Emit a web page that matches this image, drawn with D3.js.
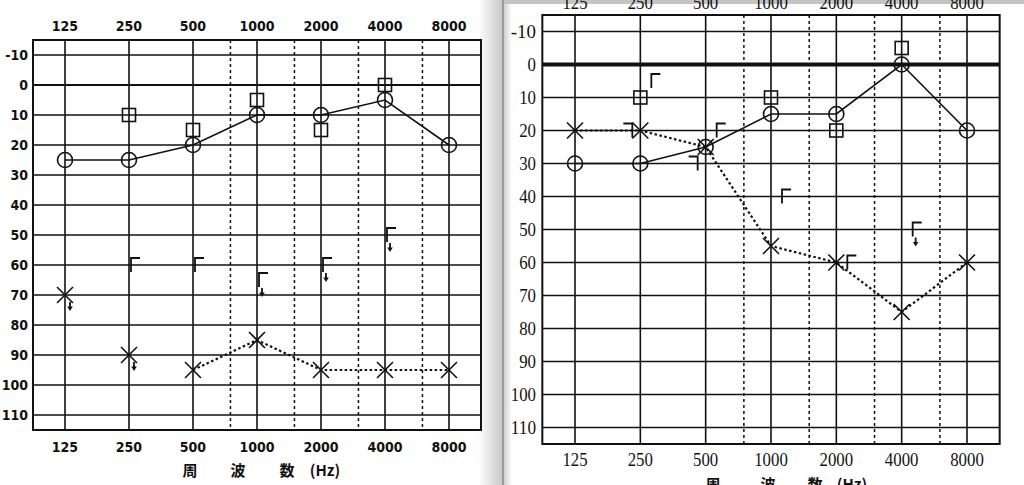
<!DOCTYPE html>
<html>
<head>
<meta charset="utf-8">
<script src="https://cdn.jsdelivr.net/npm/d3@7"></script>
<style>
  html, body { margin: 0; padding: 0; background: #fff; }
  svg { display: block; }
</style>
</head>
<body>
<svg id="chart" width="1024" height="485"></svg>
<script>
// ---------- shared axes ----------
const freqs = [125, 250, 500, 1000, 2000, 4000, 8000];
const freqLabels = ["125", "250", "500", "1000", "2000", "4000", "8000"];
const halfOctaveFreqs = [750, 1500, 3000, 6000];
const dbTicks = [-10, 0, 10, 20, 30, 40, 50, 60, 70, 80, 90, 100, 110];
const dbLabels = ["-10", "0", "10", "20", "30", "40", "50", "60", "70", "80", "90", "100", "110"];
const titleChars = ["周", "波", "数", "(Hz)"];

// ---------- left audiogram ----------
const leftCircleDb = [25, 25, 20, 10, 10, 5, 20];            // ○ solid line
const leftSquareFreq = [250, 500, 1000, 2000, 4000];
const leftSquareDb = [10, 15, 5, 15, 0];                      // □
const leftCrossDb = [70, 90, 95, 85, 95, 95, 95];            // × dotted line
const leftCrossNoResp = [true, true, false, false, false, false, false];
const leftBracketFreq = [250, 500, 1000, 2000, 4000];
const leftBracketDb = [60, 60, 65, 60, 50];                   // Γ
const leftBracketNoResp = [false, false, true, true, true];
const leftRevBracketFreq = [];
const leftRevBracketDb = [];

// ---------- right audiogram ----------
const rightCircleDb = [30, 30, 25, 15, 15, 0, 20];
const rightSquareFreq = [250, 1000, 2000, 4000];
const rightSquareDb = [10, 10, 20, -5];
const rightCrossDb = [20, 20, 25, 55, 60, 75, 60];
const rightCrossNoResp = [false, false, false, false, false, false, false];
const rightBracketFreq = [250, 500, 1000, 2000, 4000];
const rightBracketDb = [5, 20, 40, 60, 50];
const rightBracketNoResp = [false, false, false, false, true];
const rightRevBracketFreq = [250, 500];
const rightRevBracketDb = [20, 30];

const svg = d3.select("#chart");

// page background / book spine shading
const defs = svg.append("defs");
const g1 = defs.append("linearGradient").attr("id", "spine").attr("x1", "0").attr("x2", "1");
g1.append("stop").attr("offset", "0").attr("stop-color", "#fff");
g1.append("stop").attr("offset", "1").attr("stop-color", "#c9c9c9");
const g2 = defs.append("linearGradient").attr("id", "spine2").attr("x1", "0").attr("x2", "1");
g2.append("stop").attr("offset", "0").attr("stop-color", "#d0d0d0");
g2.append("stop").attr("offset", "1").attr("stop-color", "#fff");
svg.append("rect").attr("x", 0).attr("y", 0).attr("width", 1024).attr("height", 485).attr("fill", "#fff");
svg.append("rect").attr("x", 478).attr("y", 0).attr("width", 24).attr("height", 485).attr("fill", "url(#spine)");
svg.append("rect").attr("x", 502).attr("y", 0).attr("width", 2).attr("height", 485).attr("fill", "#9a9a9a");
svg.append("rect").attr("x", 504).attr("y", 0).attr("width", 8).attr("height", 485).attr("fill", "url(#spine2)");
svg.append("rect").attr("x", 504).attr("y", 0).attr("width", 520).attr("height", 4).attr("fill", "#c4c4c4");

function drawPanel(cfg) {
  const x = d3.scaleLog().base(2).domain([125, 8000]).range(cfg.xRange);
  const y = d3.scaleLinear().domain([-15, 115]).range(cfg.yRange);
  const g = svg.append("g");
  const x0 = x(125 / Math.SQRT2), x1 = x(8000 * Math.SQRT2);
  const y0 = y(-15), y1 = y(115);

  // horizontal grid lines
  g.selectAll(".hg").data(dbTicks).join("line")
    .attr("x1", x0).attr("x2", x1)
    .attr("y1", d => y(d)).attr("y2", d => y(d))
    .attr("stroke", "#111")
    .attr("stroke-width", d => d === 0 ? cfg.zeroWidth : 1.6);
  // vertical grid lines
  g.selectAll(".vg").data(freqs).join("line")
    .attr("x1", d => x(d)).attr("x2", d => x(d))
    .attr("y1", y0).attr("y2", y1)
    .attr("stroke", "#111").attr("stroke-width", 1.6);
  g.selectAll(".vh").data(halfOctaveFreqs).join("line")
    .attr("x1", d => x(d)).attr("x2", d => x(d))
    .attr("y1", y0).attr("y2", y1)
    .attr("stroke", "#111").attr("stroke-width", 1.5)
    .attr("stroke-dasharray", "3,3");
  // frame
  g.append("rect").attr("x", x0).attr("y", y0)
    .attr("width", x1 - x0).attr("height", y1 - y0)
    .attr("fill", "none").attr("stroke", "#111").attr("stroke-width", 2);

  // labels
  const fontAttrs = sel => sel.attr("font-family", cfg.font)
    .attr("font-size", cfg.fontSize).attr("font-weight", cfg.fontWeight).attr("fill", "#111");
  g.selectAll(".yl").data(dbTicks).join("text")
    .attr("x", cfg.yLabelX).attr("y", d => y(d) + cfg.fontSize * 0.36)
    .attr("text-anchor", "end")
    .text((d, i) => dbLabels[i]).call(fontAttrs)
    .each(function (d, i) { if (cfg.digitW) d3.select(this).attr("textLength", dbLabels[i].length * cfg.digitW).attr("lengthAdjust", "spacingAndGlyphs"); });
  g.selectAll(".xt").data(freqs).join("text")
    .attr("x", d => x(d)).attr("y", cfg.topLabelY)
    .attr("text-anchor", "middle")
    .text((d, i) => freqLabels[i]).call(fontAttrs)
    .each(function (d, i) { if (cfg.digitW) d3.select(this).attr("textLength", freqLabels[i].length * cfg.digitW).attr("lengthAdjust", "spacingAndGlyphs"); });
  g.selectAll(".xb").data(freqs).join("text")
    .attr("x", d => x(d)).attr("y", cfg.bottomLabelY)
    .attr("text-anchor", "middle")
    .text((d, i) => freqLabels[i]).call(fontAttrs)
    .each(function (d, i) { if (cfg.digitW) d3.select(this).attr("textLength", freqLabels[i].length * cfg.digitW).attr("lengthAdjust", "spacingAndGlyphs"); });
  g.selectAll(".tt").data(titleChars).join("text")
    .attr("x", (d, i) => cfg.titleX[i]).attr("y", cfg.titleY)
    .attr("text-anchor", "middle")
    .attr("font-family", "'Noto Sans CJK JP', 'Noto Sans CJK SC', sans-serif")
    .attr("font-size", cfg.titleSize).attr("font-weight", "bold").attr("fill", "#111")
    .text(d => d);

  const ink = "#111";
  // right-ear air: solid line + circles
  const circPts = freqs.map((f, i) => [x(f), y(cfg.circleDb[i])]);
  g.append("path").attr("d", d3.line()(circPts))
    .attr("fill", "none").attr("stroke", ink).attr("stroke-width", 1.6);
  g.selectAll(".ci").data(circPts).join("circle")
    .attr("cx", d => d[0]).attr("cy", d => d[1]).attr("r", 7.5)
    .attr("fill", "none").attr("stroke", ink).attr("stroke-width", 1.6);

  // left-ear air: dotted line + crosses
  const crossPts = freqs.map((f, i) => ({ f, x: x(f), y: y(cfg.crossDb[i]), nr: cfg.crossNoResp[i] }));
  const linked = crossPts.filter(p => !p.nr).map(p => [p.x, p.y]);
  g.append("path").attr("d", d3.line()(linked))
    .attr("fill", "none").attr("stroke", ink).attr("stroke-width", 2.2)
    .attr("stroke-dasharray", "2.5,2.5");
  const s = 8;
  g.selectAll(".cx").data(crossPts).join("path")
    .attr("d", p => `M${p.x - s},${p.y - s}L${p.x + s},${p.y + s}M${p.x + s},${p.y - s}L${p.x - s},${p.y + s}`)
    .attr("stroke", ink).attr("stroke-width", 1.6).attr("fill", "none");

  // no-response arrow helper
  function arrow(ax, ay) {
    g.append("path").attr("d", `M${ax},${ay}L${ax},${ay + 6}`)
      .attr("stroke", ink).attr("stroke-width", 1.8);
    g.append("path").attr("d", `M${ax - 2.8},${ay + 4.5}L${ax + 2.8},${ay + 4.5}L${ax},${ay + 9}Z`)
      .attr("fill", ink);
  }
  crossPts.filter(p => p.nr).forEach(p => arrow(p.x + 5, p.y + 7));

  // bone: squares
  const sq = 6.5;
  g.selectAll(".sq").data(cfg.squareFreq).join("rect")
    .attr("x", (f) => x(f) - sq)
    .attr("y", (f, i) => y(cfg.squareDb[i]) - sq)
    .attr("width", sq * 2).attr("height", sq * 2)
    .attr("fill", "none").attr("stroke", ink).attr("stroke-width", 1.6);

  // masked bone: Γ brackets (right of column)
  cfg.bracketFreq.forEach((f, i) => {
    const bx = x(f) + cfg.bracketOffset, by = y(cfg.bracketDb[i]);
    g.append("path").attr("d", `M${bx + 9},${by - 7}L${bx},${by - 7}L${bx},${by + 7}`)
      .attr("fill", "none").attr("stroke", ink).attr("stroke-width", 1.8);
    if (cfg.bracketNoResp[i]) arrow(bx + 3, by + 8);
  });
  // reversed brackets ┐ (left of column)
  cfg.revBracketFreq.forEach((f, i) => {
    const bx = x(f) - 8, by = y(cfg.revBracketDb[i]);
    g.append("path").attr("d", `M${bx - 9},${by - 7}L${bx},${by - 7}L${bx},${by + 7}`)
      .attr("fill", "none").attr("stroke", ink).attr("stroke-width", 1.8);
  });
}

drawPanel({
  xRange: [65, 449], yRange: [40, 430], zeroWidth: 2.2,
  font: "'DejaVu Sans Condensed', 'DejaVu Sans', sans-serif", fontSize: 14, fontWeight: "bold", digitW: 0,
  yLabelX: 28, topLabelY: 31, bottomLabelY: 452,
  titleX: [190, 238, 287, 325], titleY: 476, titleSize: 15,
  circleDb: leftCircleDb, crossDb: leftCrossDb, crossNoResp: leftCrossNoResp,
  squareFreq: leftSquareFreq, squareDb: leftSquareDb,
  bracketFreq: leftBracketFreq, bracketDb: leftBracketDb, bracketNoResp: leftBracketNoResp, bracketOffset: 2,
  revBracketFreq: leftRevBracketFreq, revBracketDb: leftRevBracketDb
});

drawPanel({
  xRange: [575, 967], yRange: [15, 444], zeroWidth: 4,
  font: "'Liberation Serif', 'Times New Roman', serif", fontSize: 18, fontWeight: "normal", digitW: 8.4,
  yLabelX: 536, topLabelY: 9, bottomLabelY: 466,
  titleX: [713, 768, 815, 852], titleY: 490, titleSize: 15,
  circleDb: rightCircleDb, crossDb: rightCrossDb, crossNoResp: rightCrossNoResp,
  squareFreq: rightSquareFreq, squareDb: rightSquareDb,
  bracketFreq: rightBracketFreq, bracketDb: rightBracketDb, bracketNoResp: rightBracketNoResp, bracketOffset: 11,
  revBracketFreq: rightRevBracketFreq, revBracketDb: rightRevBracketDb
});
</script>
</body>
</html>
